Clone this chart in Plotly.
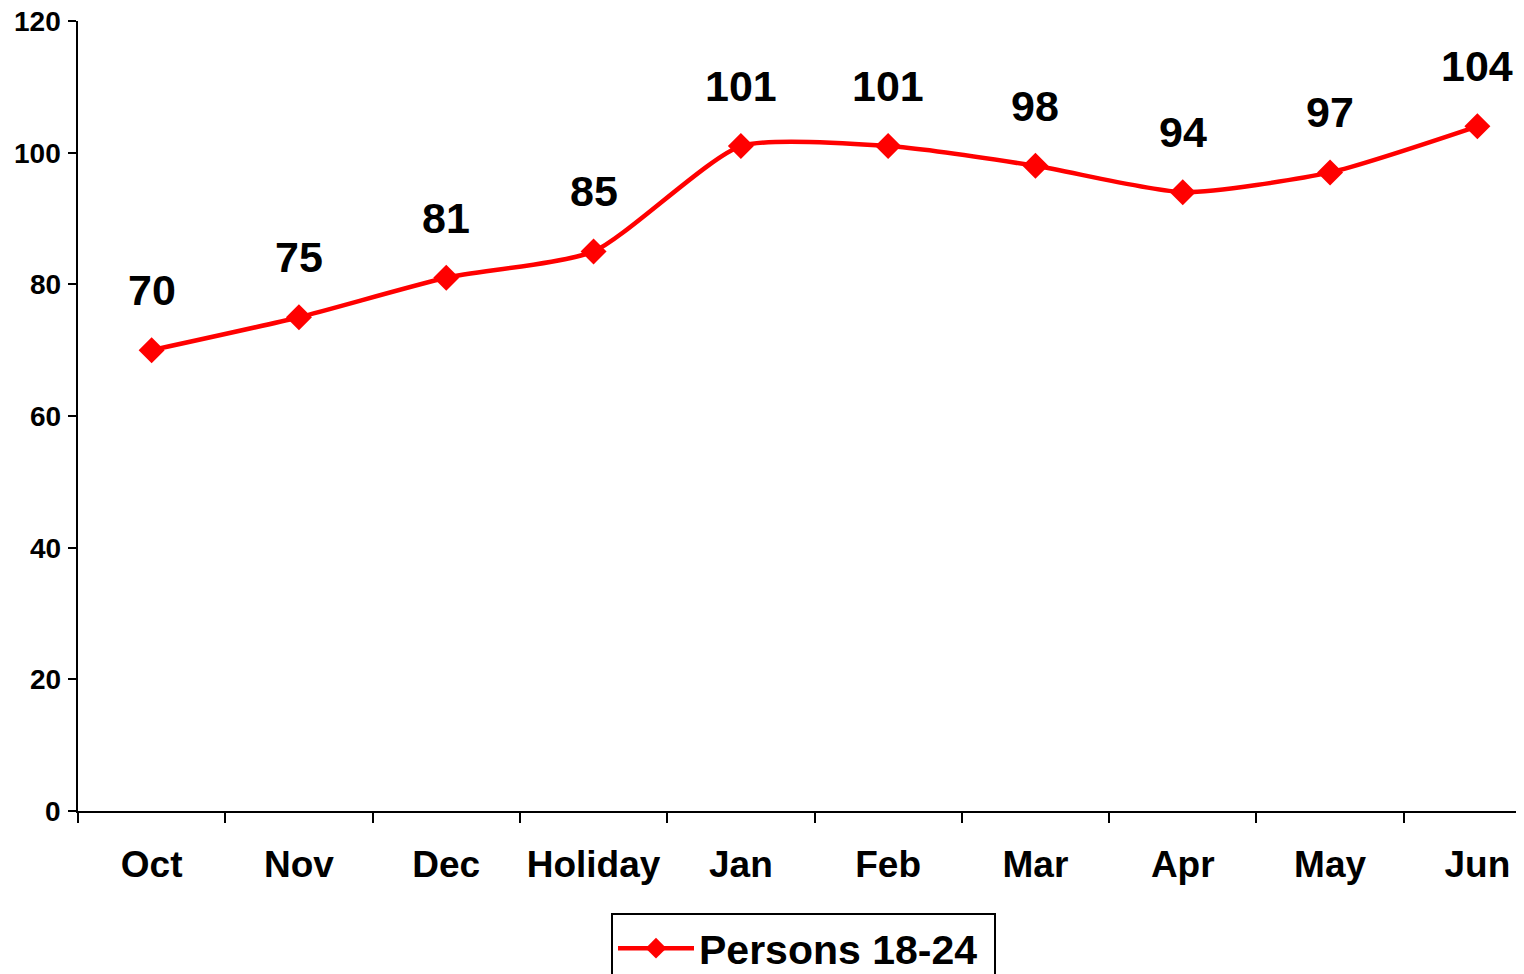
import plotly.graph_objects as go

categories = ["Oct", "Nov", "Dec", "Holiday", "Jan", "Feb", "Mar", "Apr", "May", "Jun"]
values = [70, 75, 81, 85, 101, 101, 98, 94, 97, 104]
series_name = "Persons 18-24"
y_ticks = [0, 20, 40, 60, 80, 100, 120]

FONT = "Liberation Sans, Arial, sans-serif"

FIG_W, FIG_H = 1516, 966
M_L, M_T, M_B = 70, 13, 163
PLOT_W = FIG_W - M_L
PLOT_H = FIG_H - M_T - M_B

fig = go.Figure()
fig.add_trace(go.Scatter(
    x=categories, y=values, name=f"<b>{series_name}</b>&nbsp;",
    mode="lines+markers",
    line=dict(color="#FF0000", width=4.5, shape="spline", smoothing=0.6),
    marker=dict(symbol="diamond", size=20, color="#FF0000"),
    cliponaxis=False,
))

# data labels
for c, v in zip(categories, values):
    fig.add_annotation(x=c, y=v, text=f"<b>{v}</b>", showarrow=False,
                       yshift=60, font=dict(family=FONT, size=43, color="black"))

# y tick labels (drawn as annotations so the top label is not dropped at the page edge)
for t in y_ticks:
    fig.add_annotation(xref="paper", x=0, y=t, yref="y", text=f"<b>{t}</b>",
                       showarrow=False, xanchor="right", yanchor="middle",
                       xshift=-16, height=22, borderpad=0, valign="middle",
                       font=dict(family=FONT, size=28, color="black"))

fig.update_layout(
    width=FIG_W, height=FIG_H,
    margin=dict(l=M_L, r=0, t=M_T, b=M_B, autoexpand=False),
    paper_bgcolor="white", plot_bgcolor="white",
    font=dict(family=FONT, color="black"),
    showlegend=True,
    legend=dict(x=(611 - 78) / PLOT_W, y=-(913 - 811) / PLOT_H, xanchor="left", yanchor="top",
                bordercolor="black", borderwidth=2, bgcolor="white",
                font=dict(family=FONT, size=41, color="black", weight="bold"),
                itemwidth=76),
    xaxis=dict(type="category", range=[-0.5, -0.5 + PLOT_W / 147.3], tickson="boundaries",
               ticks="outside", ticklen=10, tickwidth=2, tickcolor="black",
               showline=True, linecolor="black", linewidth=2,
               showgrid=False, zeroline=False, automargin=False,
               ticklabelstandoff=20,
               tickfont=dict(family=FONT, size=37, color="black", weight="bold")),
    yaxis=dict(range=[0, 120], tickvals=y_ticks, showticklabels=False,
               ticks="outside", ticklen=8, tickwidth=2, tickcolor="black",
               showline=True, linecolor="black", linewidth=2,
               showgrid=False, zeroline=False, automargin=False),
)

fig.write_html("out.html")
